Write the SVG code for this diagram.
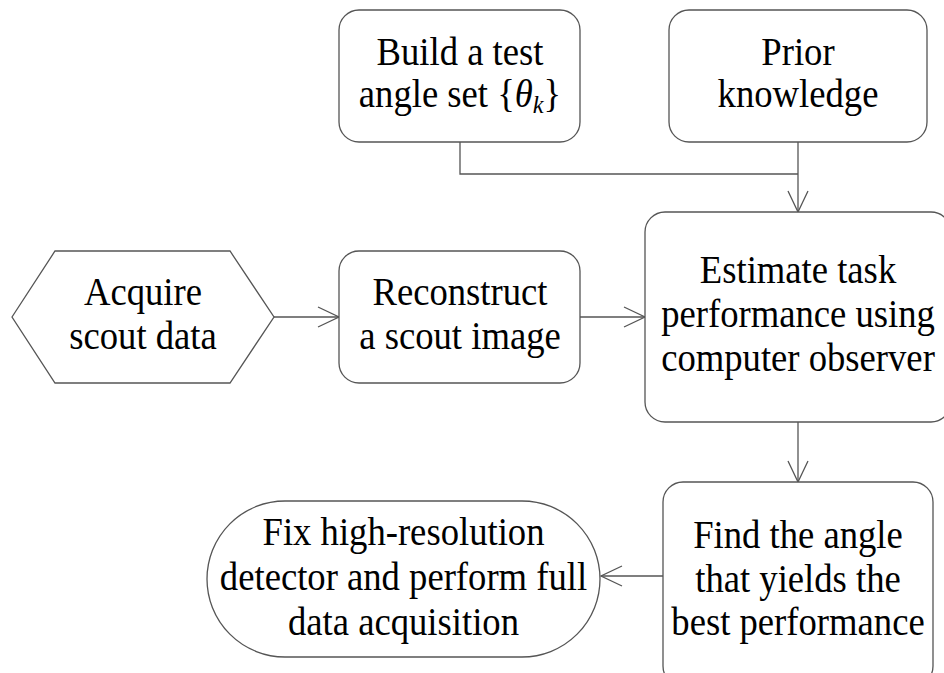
<svg xmlns="http://www.w3.org/2000/svg" width="944" height="673" viewBox="0 0 944 673">
<style>
.box{fill:#fff;stroke:#555;stroke-width:1.3}
.t{font-family:'Liberation Serif','Times New Roman',Times,serif;font-size:39px;fill:#000;text-anchor:middle}
.c{fill:none;stroke:#555;stroke-width:1.3}
</style>
<defs>
<marker id="ah" markerUnits="userSpaceOnUse" markerWidth="30" markerHeight="30" viewBox="-25 -15 30 30" refX="0" refY="0" orient="auto">
<path d="M-21,-10 L0,0 L-21,10" fill="none" stroke="#555" stroke-width="1.3"/>
</marker>
</defs>
<rect width="944" height="673" fill="#fff"/>
<g id="connectors">
<path class="c" d="M460,142 V174 H798"/>
<path class="c" d="M798,142 V212" marker-end="url(#ah)"/>
<path class="c" d="M274,317 H339" marker-end="url(#ah)"/>
<path class="c" d="M580,317 H645" marker-end="url(#ah)"/>
<path class="c" d="M798,422 V482" marker-end="url(#ah)"/>
<path class="c" d="M663,576 H601" marker-end="url(#ah)"/>
</g>
<g id="build">
<rect class="box" x="339" y="10" width="241" height="132" rx="20"/>
<g transform="translate(460 0) scale(0.94 1)">
<text class="t" x="0" y="65">Build a test</text>
<text class="t" x="0" y="107">angle set {<tspan font-style="italic">θ</tspan><tspan font-style="italic" font-size="26" dy="6">k</tspan><tspan dy="-6">}</tspan></text>
</g>
</g>
<g id="prior">
<rect class="box" x="669" y="10" width="258" height="132" rx="20"/>
<g transform="translate(798 0) scale(0.94 1)">
<text class="t" x="0" y="65">Prior</text>
<text class="t" x="0" y="107">knowledge</text>
</g>
</g>
<g id="acquire">
<polygon class="box" points="12,317 55,251 230,251 274,317 230,383 55,383"/>
<g transform="translate(143 0) scale(0.94 1)">
<text class="t" x="0" y="305">Acquire</text>
<text class="t" x="0" y="349">scout data</text>
</g>
</g>
<g id="reconstruct">
<rect class="box" x="339" y="251" width="241" height="132" rx="20"/>
<g transform="translate(460 0) scale(0.94 1)">
<text class="t" x="0" y="305">Reconstruct</text>
<text class="t" x="0" y="349">a scout image</text>
</g>
</g>
<g id="estimate">
<rect class="box" x="645" y="212" width="306" height="210" rx="20"/>
<g transform="translate(798 0) scale(0.94 1)">
<text class="t" x="0" y="283">Estimate task</text>
<text class="t" x="0" y="327">performance using</text>
<text class="t" x="0" y="371">computer observer</text>
</g>
</g>
<g id="find">
<rect class="box" x="663" y="482" width="270" height="204" rx="20"/>
<g transform="translate(798 0) scale(0.94 1)">
<text class="t" x="0" y="548">Find the angle</text>
<text class="t" x="0" y="592">that yields the</text>
<text class="t" x="0" y="635">best performance</text>
</g>
</g>
<g id="fix">
<rect class="box" x="207" y="501" width="393" height="156" rx="78"/>
<g transform="translate(403.5 0) scale(0.94 1)">
<text class="t" x="0" y="545">Fix high-resolution</text>
<text class="t" x="0" y="590">detector and perform full</text>
<text class="t" x="0" y="635">data acquisition</text>
</g>
</g>
</svg>
